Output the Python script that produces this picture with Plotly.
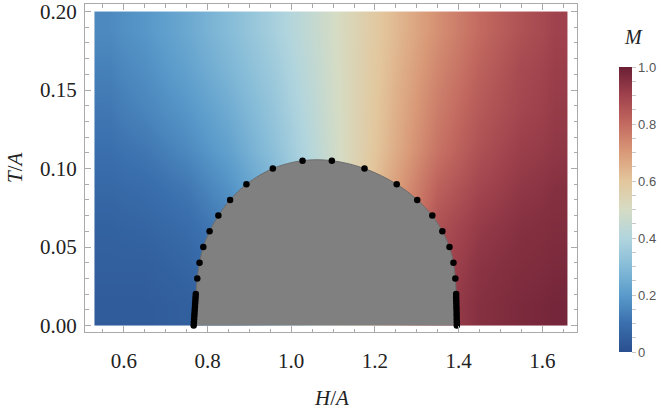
import plotly.graph_objects as go

# ---------------- data ----------------
# cell edges of the magnetisation map
H_edges = [0.53, 0.6, 0.7, 0.8, 0.9, 1.0, 1.1, 1.2, 1.3, 1.4, 1.5, 1.6, 1.66]
T_edges = [0.0, 0.025, 0.05, 0.075, 0.1, 0.125, 0.15, 0.175, 0.2]

# M values (rows: T from low to high, columns: H from low to high)
M_grid = [
    [0.04, 0.04, 0.05, 0.08, 0.25, 0.40, 0.55, 0.70, 0.90, 0.95, 0.97, 0.98],
    [0.05, 0.05, 0.07, 0.10, 0.25, 0.40, 0.55, 0.70, 0.88, 0.94, 0.96, 0.97],
    [0.06, 0.07, 0.09, 0.14, 0.25, 0.40, 0.55, 0.70, 0.86, 0.92, 0.95, 0.96],
    [0.08, 0.09, 0.12, 0.18, 0.27, 0.40, 0.55, 0.69, 0.82, 0.89, 0.93, 0.95],
    [0.10, 0.12, 0.16, 0.22, 0.31, 0.42, 0.54, 0.66, 0.78, 0.86, 0.91, 0.93],
    [0.12, 0.15, 0.19, 0.25, 0.33, 0.43, 0.54, 0.65, 0.76, 0.84, 0.89, 0.92],
    [0.14, 0.17, 0.22, 0.28, 0.35, 0.44, 0.54, 0.64, 0.74, 0.82, 0.88, 0.91],
    [0.16, 0.19, 0.24, 0.30, 0.37, 0.45, 0.54, 0.63, 0.72, 0.80, 0.86, 0.90],
]

# phase boundary points
T_left = [0.0, 0.002, 0.004, 0.006, 0.008, 0.010, 0.012, 0.014, 0.016, 0.018, 0.020,
          0.03, 0.04, 0.05, 0.06, 0.07, 0.08, 0.09, 0.10, 0.105]
H_left = [0.767, 0.7675, 0.768, 0.7685, 0.769, 0.7695, 0.770, 0.7705, 0.771, 0.7715, 0.772,
          0.7756, 0.781, 0.790, 0.805, 0.826, 0.854, 0.893, 0.956, 1.027]
T_right = [0.0, 0.002, 0.004, 0.006, 0.008, 0.010, 0.012, 0.014, 0.016, 0.018, 0.020,
           0.03, 0.04, 0.05, 0.06, 0.07, 0.08, 0.09, 0.10, 0.105]
H_right = [1.3955, 1.3955, 1.3953, 1.3951, 1.395, 1.3948, 1.3946, 1.3944, 1.3942, 1.394, 1.394,
           1.392, 1.3875, 1.378, 1.361, 1.337, 1.301, 1.252, 1.175, 1.097]

x_ticks = [0.6, 0.8, 1.0, 1.2, 1.4, 1.6]
x_labels = ["0.6", "0.8", "1.0", "1.2", "1.4", "1.6"]
y_ticks = [0.0, 0.05, 0.10, 0.15, 0.20]
y_labels = ["0.00", "0.05", "0.10", "0.15", "0.20"]
cbar_ticks = [0, 0.2, 0.4, 0.6, 0.8, 1.0]
cbar_labels = ["0", "0.2", "0.4", "0.6", "0.8", "1.0"]

colorscale = [
    [0.0, "#2a4f8f"], [0.1, "#3a6fad"], [0.2, "#5a9bcb"], [0.3, "#86bcd8"],
    [0.4, "#b1d5de"], [0.5, "#d6dcc4"], [0.6, "#e3c69c"], [0.7, "#d99a78"],
    [0.8, "#c36a60"], [0.9, "#a0424d"], [1.0, "#6b1f35"],
]

# ---------------- figure ----------------
fig = go.Figure()

minor_vals = [round(i * 0.05, 2) for i in range(21)]
minor_text = [""] * len(minor_vals)
for v, t in zip(cbar_ticks, cbar_labels):
    minor_text[minor_vals.index(round(v, 2))] = t

PL, PR, PT, PB = 85, 577, 4, 332  # plot-area pixel box
PW, PH = PR - PL, PB - PT

fig.add_trace(go.Heatmap(
    x=H_edges, y=T_edges, z=M_grid, zmin=0, zmax=1,
    colorscale=colorscale, zsmooth="best", hoverinfo="skip",
    colorbar=dict(
        x=(619 - PL) / PW, xanchor="left", y=(PB - 352) / PH, yanchor="bottom",
        lenmode="pixels", len=285, thickness=13, outlinewidth=0,
        xpad=0, ypad=0,
        tickmode="array", tickvals=minor_vals, ticktext=minor_text,
        ticks="outside", ticklen=4, tickcolor="#c8c8c8",
        tickfont=dict(family="Liberation Sans", size=13, color="#555555"),
    ),
))

dome_x = H_left + H_right[::-1]
dome_y = T_left + T_right[::-1]
fig.add_trace(go.Scatter(
    x=dome_x, y=dome_y, mode="lines", fill="toself",
    fillcolor="#808080", line=dict(color="#6c6c6c", width=1, shape="spline"),
    hoverinfo="skip", showlegend=False,
))

fig.add_trace(go.Scatter(
    x=H_left + H_right, y=T_left + T_right, mode="markers",
    marker=dict(color="black", size=6.5), hoverinfo="skip", showlegend=False,
))

axis_common = dict(
    showgrid=False, zeroline=False, showline=True, linecolor="#aaaaaa", linewidth=1,
    mirror="ticks", ticks="inside", ticklen=6, tickcolor="#aaaaaa", automargin=False,
    ticklabeloverflow="allow",
    tickfont=dict(family="Liberation Serif", size=21, color="#222222"),
)

fig.update_layout(
    width=661, height=416,
    margin=dict(l=PL, r=661 - PR, t=PT, b=416 - PB, autoexpand=False),
    paper_bgcolor="white", plot_bgcolor="white",
    showlegend=False,
    xaxis=dict(range=[0.5074, 1.6826], tickmode="array", tickvals=x_ticks, ticktext=x_labels,
               ticklabelstandoff=10,
               minor=dict(dtick=0.05, tick0=0, ticks="inside", ticklen=3.5, tickcolor="#aaaaaa"),
               **axis_common),
    yaxis=dict(range=[-0.00414, 0.2048], tickmode="array", tickvals=y_ticks, ticktext=y_labels,
               ticklabelstandoff=3,
               minor=dict(dtick=0.01, tick0=0, ticks="inside", ticklen=3.5, tickcolor="#aaaaaa"),
               **axis_common),
    annotations=[
        dict(text="<i>H</i>/<i>A</i>", xref="paper", yref="paper", x=0.5, y=-66 / PH,
             xanchor="center", yanchor="middle", showarrow=False,
             font=dict(family="Liberation Serif", size=21, color="#222222")),
        dict(text="<i>T</i>/<i>A</i>", xref="paper", yref="paper", x=-70 / PW, y=0.5,
             xanchor="center", yanchor="middle", showarrow=False, textangle=-90,
             font=dict(family="Liberation Serif", size=21, color="#222222")),
        dict(text="<i>M</i>", xref="paper", yref="paper", x=(633 - PL) / PW,
             y=(PB - 37) / PH, xanchor="center", yanchor="middle", showarrow=False,
             font=dict(family="Liberation Serif", size=20, color="#222222")),
    ],
)

fig.write_html("out.html", config={"displayModeBar": False},
               post_script="document.body.style.margin='0';")
